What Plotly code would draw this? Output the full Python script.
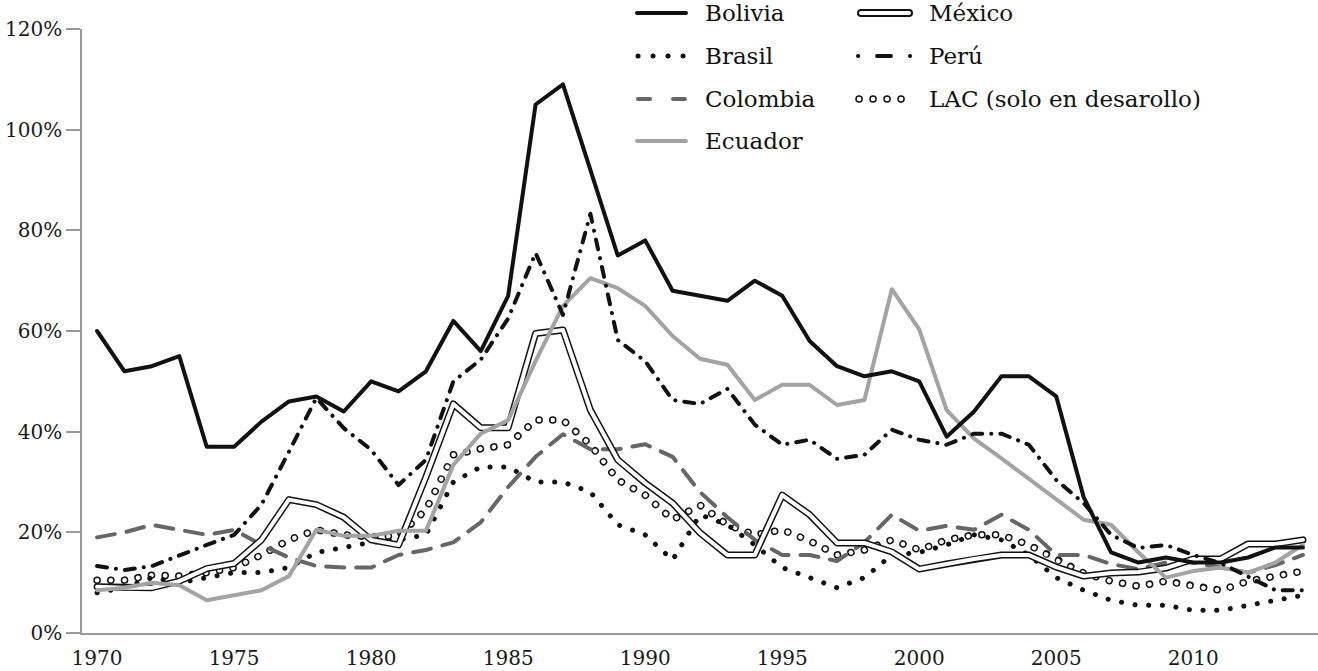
import plotly.graph_objects as go

years = list(range(1970, 2015))

bolivia = [60, 52, 53, 55, 37, 37, 42, 46, 47, 44,
           50, 48, 52, 62, 56, 67, 105, 109, 92, 75,
           78, 68, 67, 66, 70, 67, 58, 53, 51, 52,
           50, 39, 44, 51, 51, 47, 27, 16, 14, 15,
           14, 14, 15, 17, 17]
brasil = [8, 9, 11, 10, 11, 12, 12, 13, 16, 17,
          18, 18.5, 19.5, 30, 33, 33, 30, 30, 28, 21.5,
          19.5, 14.5, 23.5, 21.5, 17.5, 13, 11, 9, 11, 15.5,
          16, 17.5, 19.5, 18.5, 15.5, 11, 8.5, 6.5, 5.5, 5.5,
          4.5, 4.5, 5.5, 6.5, 7.5]
colombia = [19, 20, 21.5, 20.5, 19.5, 20.5, 17.5, 15, 13.3, 13,
            13, 15.5, 16.5, 18, 22, 29, 35, 39.5, 36.5, 36.5,
            37.5, 35, 28, 23, 18.5, 15.5, 15.5, 14.3, 18, 23.5,
            20.3, 21.3, 20.5, 23.5, 20.5, 15.5, 15.5, 13.7, 12.7, 14,
            14, 13, 12, 13.5, 15.5]
ecuador = [8.5, 9, 10, 9.5, 6.5, 7.5, 8.5, 11.3, 20.5, 19.3,
           19.3, 20.3, 20.3, 33.4, 39.6, 42.3, 54, 65, 70.5, 68.5,
           65, 59, 54.5, 53.3, 46.3, 49.3, 49.3, 45.3, 46.3, 68.3,
           60.3, 44.3, 38.6, 34.7, 30.6, 26.5, 22.5, 21.5, 16, 11,
           12.3, 13, 12, 14, 17.5]
mexico = [9.2, 9, 9, 10.3, 12.8, 13.8, 18.5, 26.5, 25.5, 23,
          18.5, 17.5, 31, 45.5, 40.8, 40.8, 59.5, 60.2, 44.3, 34.4,
          29.8, 25.8, 19.9, 15.5, 15.5, 27.4, 23.5, 17.9, 17.9, 16.1,
          12.7, 13.7, 14.7, 15.5, 15.5, 13.1, 11.3, 11.9, 12.1, 12.9,
          14.7, 14.7, 17.7, 17.7, 18.5]
peru = [13.3, 12.5, 13.3, 15.5, 17.5, 19.5, 25.5, 36, 46.7, 40.7,
        36.4, 29.4, 34.4, 50, 54.3, 62.5, 75.5, 63.2, 83.3, 58.2,
        54, 46.3, 45.5, 48.5, 41.4, 37.4, 38.4, 34.6, 35.4, 40.4,
        38.4, 37.4, 39.6, 39.6, 37.4, 30.4, 25.8, 19.5, 16.9, 17.5,
        15.5, 13.9, 11.1, 8.5, 8.5]
lac = [10.5, 10.5, 11.5, 11.3, 12, 13, 15.5, 18.5, 20.5, 19.5,
       19.1, 19.3, 24.5, 35.4, 36.6, 37.4, 42.3, 42.3, 37.4, 30.4,
       27.4, 22.5, 25.4, 21.5, 19.5, 20.5, 18.3, 15.5, 16.5, 18.5,
       16.5, 18.5, 19.5, 19.5, 17.5, 14.5, 11.9, 10.3, 9.3, 10.3,
       9.3, 8.5, 10.3, 11.3, 12.3]

y_ticks = [0, 20, 40, 60, 80, 100, 120]
y_labels = ['0%', '20%', '40%', '60%', '80%', '100%', '120%']
x_ticks = [1970, 1975, 1980, 1985, 1990, 1995, 2000, 2005, 2010]

BLACK = '#111111'
DARK = '#666666'
LIGHT = '#a3a3a3'
FONT = 'DejaVu Serif'

fig = go.Figure()

def add(y, color, width, dash='solid'):
    fig.add_trace(go.Scatter(x=years, y=y, mode='lines', showlegend=False, hoverinfo='skip',
                             line=dict(color=color, width=width, dash=dash)))

# LAC: open rings = black dots with white dots on top
add(lac, BLACK, 7.5, '0.1px,13.6px')
add(lac, 'white', 4.5, '0.1px,13.6px')
add(brasil, BLACK, 5, '0.1px,13.6px')
add(colombia, DARK, 4, '18px,12px')
# Mexico: double line
add(mexico, BLACK, 7)
add(mexico, 'white', 4)
add(ecuador, LIGHT, 4)
add(peru, BLACK, 4, '10px,9px,0.1px,9px')
add(bolivia, BLACK, 4)

# custom legend (pixel -> paper)
L, T, W, H = 82, 29, 1236, 604
def px(x):
    return (x - L) / W
def py(y):
    return (T + H - y) / H

shapes = []
def swatch(x0, x1, y, color, width, dash='solid'):
    shapes.append(dict(type='line', xref='paper', yref='paper', x0=px(x0), x1=px(x1),
                       y0=py(y), y1=py(y), layer='above',
                       line=dict(color=color, width=width, dash=dash)))

swatch(637, 686, 13, BLACK, 4)
swatch(638, 683.1, 56, BLACK, 5, '0.1px,14.9px')
swatch(638, 685, 99, DARK, 4, '12px,23px')
swatch(637, 686, 141, LIGHT, 4)
swatch(861, 909, 13, BLACK, 8)
swatch(861, 909, 13, 'white', 4)
swatch(858, 910.1, 56, BLACK, 4, '0.1px,18.9px,14px,19px,0.1px')
swatch(859, 901.1, 99, BLACK, 7.5, '0.1px,13.9px')
swatch(859, 901.1, 99, 'white', 4.5, '0.1px,13.9px')

labels = [('Bolivia', 703, 13), ('Brasil', 703, 56), ('Colombia', 703, 99), ('Ecuador', 703, 141),
          ('México', 927, 13), ('Perú', 927, 56), ('LAC (solo en desarollo)', 927, 99)]
annotations = [dict(text=t, x=px(x), y=py(y), xref='paper', yref='paper', xanchor='left',
                    yanchor='middle', showarrow=False, font=dict(family=FONT, size=23, color=BLACK))
               for t, x, y in labels]

fig.update_layout(
    width=1318, height=671, autosize=False,
    margin=dict(l=L, r=0, t=T, b=671 - T - H),
    plot_bgcolor='white', paper_bgcolor='white',
    font=dict(family=FONT, size=20, color='#1a1a1a'),
    shapes=shapes, annotations=annotations, showlegend=False,
)
fig.update_xaxes(range=[1969.45, 2014.55], tickvals=x_ticks, ticks='', showline=True,
                 ticklabelstandoff=6,
                 linecolor='#9a9a9a', linewidth=1.5, showgrid=False, zeroline=False)
fig.update_yaxes(range=[0, 120], tickvals=y_ticks, ticktext=y_labels, ticks='outside', ticklen=14,
                 tickcolor='#9a9a9a', tickwidth=1.5, showline=True, linecolor='#9a9a9a',
                 linewidth=1.5, showgrid=False, zeroline=False)

post = ("document.body.style.margin='0';"
        "var s=document.createElement('style');"
        "s.textContent='.js-line,.shapelayer path{stroke-linecap:round;stroke-linejoin:round}';"
        "document.head.appendChild(s);")
fig.write_html("out.html", post_script=post, config={'displayModeBar': False})
